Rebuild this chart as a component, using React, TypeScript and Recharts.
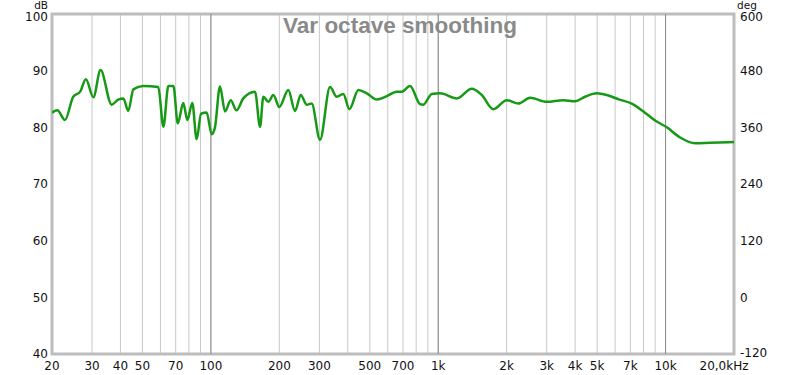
import { LineChart, Line, XAxis, YAxis, CartesianGrid, ReferenceLine, ReferenceArea } from 'recharts';

// frequency response (Hz / dB)
const freqHz = [
  20, 21.1, 22.8, 24.8, 26.6, 28.2, 30.4, 32.7, 36.6, 39.1, 41.2, 43.3, 45.6, 50.4, 58.7, 61.8,
  65.0, 68.4, 71.5, 75.6, 78.8, 82.8, 86.6, 90.5, 95.8, 100.8, 104.2, 109.6, 115.4, 122.2, 129.6,
  138.9, 156.3, 164.5, 170.1, 178.9, 188.2, 200, 219, 234.5, 248.4, 263.9, 277.6, 302, 334.2,
  357.8, 382.5, 406.4, 445.3, 484.9, 536.6, 593.8, 657, 691, 751.7, 831.8, 859.9, 936.6, 1019,
  1207, 1404, 1554, 1748, 2002, 2251, 2535, 3001, 3551, 4000, 4426, 4983, 5512, 6262, 7100, 7990,
  8995, 10122, 11587, 13490, 15700, 20000,
];
const splDb = [
  82.6, 83.0, 81.3, 85.4, 86.3, 88.5, 85.3, 90.1, 84.0, 84.9, 85.1, 82.9, 86.7, 87.3, 87.1, 80.1,
  87.3, 87.3, 80.7, 84.3, 81.3, 84.3, 77.9, 82.4, 82.6, 78.8, 80.0, 87.2, 82.8, 84.8, 83.0,
  85.1, 86.3, 80.1, 85.4, 84.5, 85.7, 83.6, 86.6, 82.9, 85.7, 84.0, 84.2, 77.8, 87.1,
  85.4, 85.9, 83.2, 86.6, 86.0, 84.9, 85.5, 86.3, 86.3, 87.3, 84.1, 84.0, 85.9, 86.0,
  85.1, 86.8, 85.7, 83.2, 84.8, 84.2, 85.2, 84.5, 84.8, 84.6, 85.4, 86.0, 85.7, 84.9, 84.2, 82.8,
  81.2, 80.0, 78.2, 77.2, 77.3, 77.4,
];

const gridFreqs = [
  20, 30, 40, 50, 60, 70, 80, 90, 100, 200, 300, 400, 500, 600, 700, 800, 900,
  1000, 2000, 3000, 4000, 5000, 6000, 7000, 8000, 9000, 10000, 20000,
];
const xLabels: Record<number, string> = {
  20: '20', 30: '30', 40: '40', 50: '50', 70: '70', 100: '100', 200: '200', 300: '300',
  500: '500', 700: '700', 1000: '1k', 2000: '2k', 3000: '3k', 4000: '4k', 5000: '5k',
  7000: '7k', 10000: '10k', 20000: '20,0kHz',
};
const decadeLines = [100, 1000, 10000];
const dbTicks = [40, 50, 60, 70, 80, 90, 100];
const degTicks = [-120, 0, 120, 240, 360, 480, 600];

const data = freqHz.map((f, i) => ({ f, spl: splDb[i] }));

const font = '"DejaVu Sans", sans-serif';

const XTick = (props: any) => {
  const { x, y, payload } = props;
  const label = xLabels[payload.value];
  if (!label) return <g />;
  const shift = payload.value === 20000 ? -10 : 0;
  return (
    <text x={x + shift} y={y + 1} dy="0.71em" textAnchor="middle" fontSize={12} fontFamily={font} fill="#111">
      {label}
    </text>
  );
};

// top label sits a little below its gridline, like in the original
const YTick = (props: any) => {
  const { x, y, payload, anchor, top, bottom } = props;
  let shift = 0;
  if (payload.value === top) shift = 3;
  if (payload.value === bottom) shift = -1;
  return (
    <text x={x} y={y + shift} dy="0.36em" textAnchor={anchor} fontSize={12} fontFamily={font} fill="#111">
      {payload.value}
    </text>
  );
};

export default function App() {
  return (
    <div style={{ position: 'absolute', left: 0, top: 0, width: 800, height: 375, background: '#fff' }}>
      <LineChart
        width={800}
        height={375}
        data={data}
        margin={{ top: 14, right: 6, bottom: 0, left: 12 }}
      >
        <CartesianGrid stroke="#c8c8c8" strokeWidth={1} />
        <XAxis
          dataKey="f"
          type="number"
          scale="log"
          domain={[20, 20000]}
          allowDataOverflow
          ticks={gridFreqs}
          interval={0}
          tick={<XTick />}
          tickLine={false}
          axisLine={false}
          tickSize={0}
          tickMargin={6}
          height={21}
        />
        <YAxis
          yAxisId="db"
          domain={[40, 100]}
          ticks={dbTicks}
          interval={0}
          width={40}
          tickLine={false}
          axisLine={false}
          tickSize={0}
          tickMargin={4}
          tick={<YTick anchor="end" top={100} />}
          allowDataOverflow
        />
        <YAxis
          yAxisId="deg"
          orientation="right"
          domain={[-120, 600]}
          ticks={degTicks}
          interval={0}
          width={60}
          tickLine={false}
          axisLine={false}
          tickSize={0}
          tickMargin={6}
          tick={<YTick anchor="start" top={600} bottom={-120} />}
          allowDataOverflow
        />
        {decadeLines.map((f) => (
          <ReferenceLine key={f} x={f} yAxisId="db" stroke="#8a8a8a" strokeWidth={1} />
        ))}
        <Line
          yAxisId="db"
          type="monotone"
          dataKey="spl"
          stroke="#169a16"
          strokeWidth={2.5}
          dot={false}
          isAnimationActive={false}
        />
        <ReferenceArea
          yAxisId="db"
          x1={20}
          x2={20000}
          y1={40}
          y2={100}
          fill="none"
          fillOpacity={0}
          stroke="#bdbdbd"
          strokeWidth={3}
          ifOverflow="visible"
        />
      </LineChart>
      <svg
        width={800}
        height={375}
        style={{ position: 'absolute', left: 0, top: 0, pointerEvents: 'none' }}
      >
        <text x={400} y={32.5} textAnchor="middle" fontSize={22.5} fontWeight="bold" fontFamily='"Liberation Sans", sans-serif' fill="#8a8a8a">
          Var octave smoothing
        </text>
        <text x={48} y={9} textAnchor="end" fontSize={10.5} fontFamily={font} fill="#111">dB</text>
        <text x={737} y={9} textAnchor="start" fontSize={10.5} fontFamily={font} fill="#111">deg</text>
      </svg>
    </div>
  );
}
